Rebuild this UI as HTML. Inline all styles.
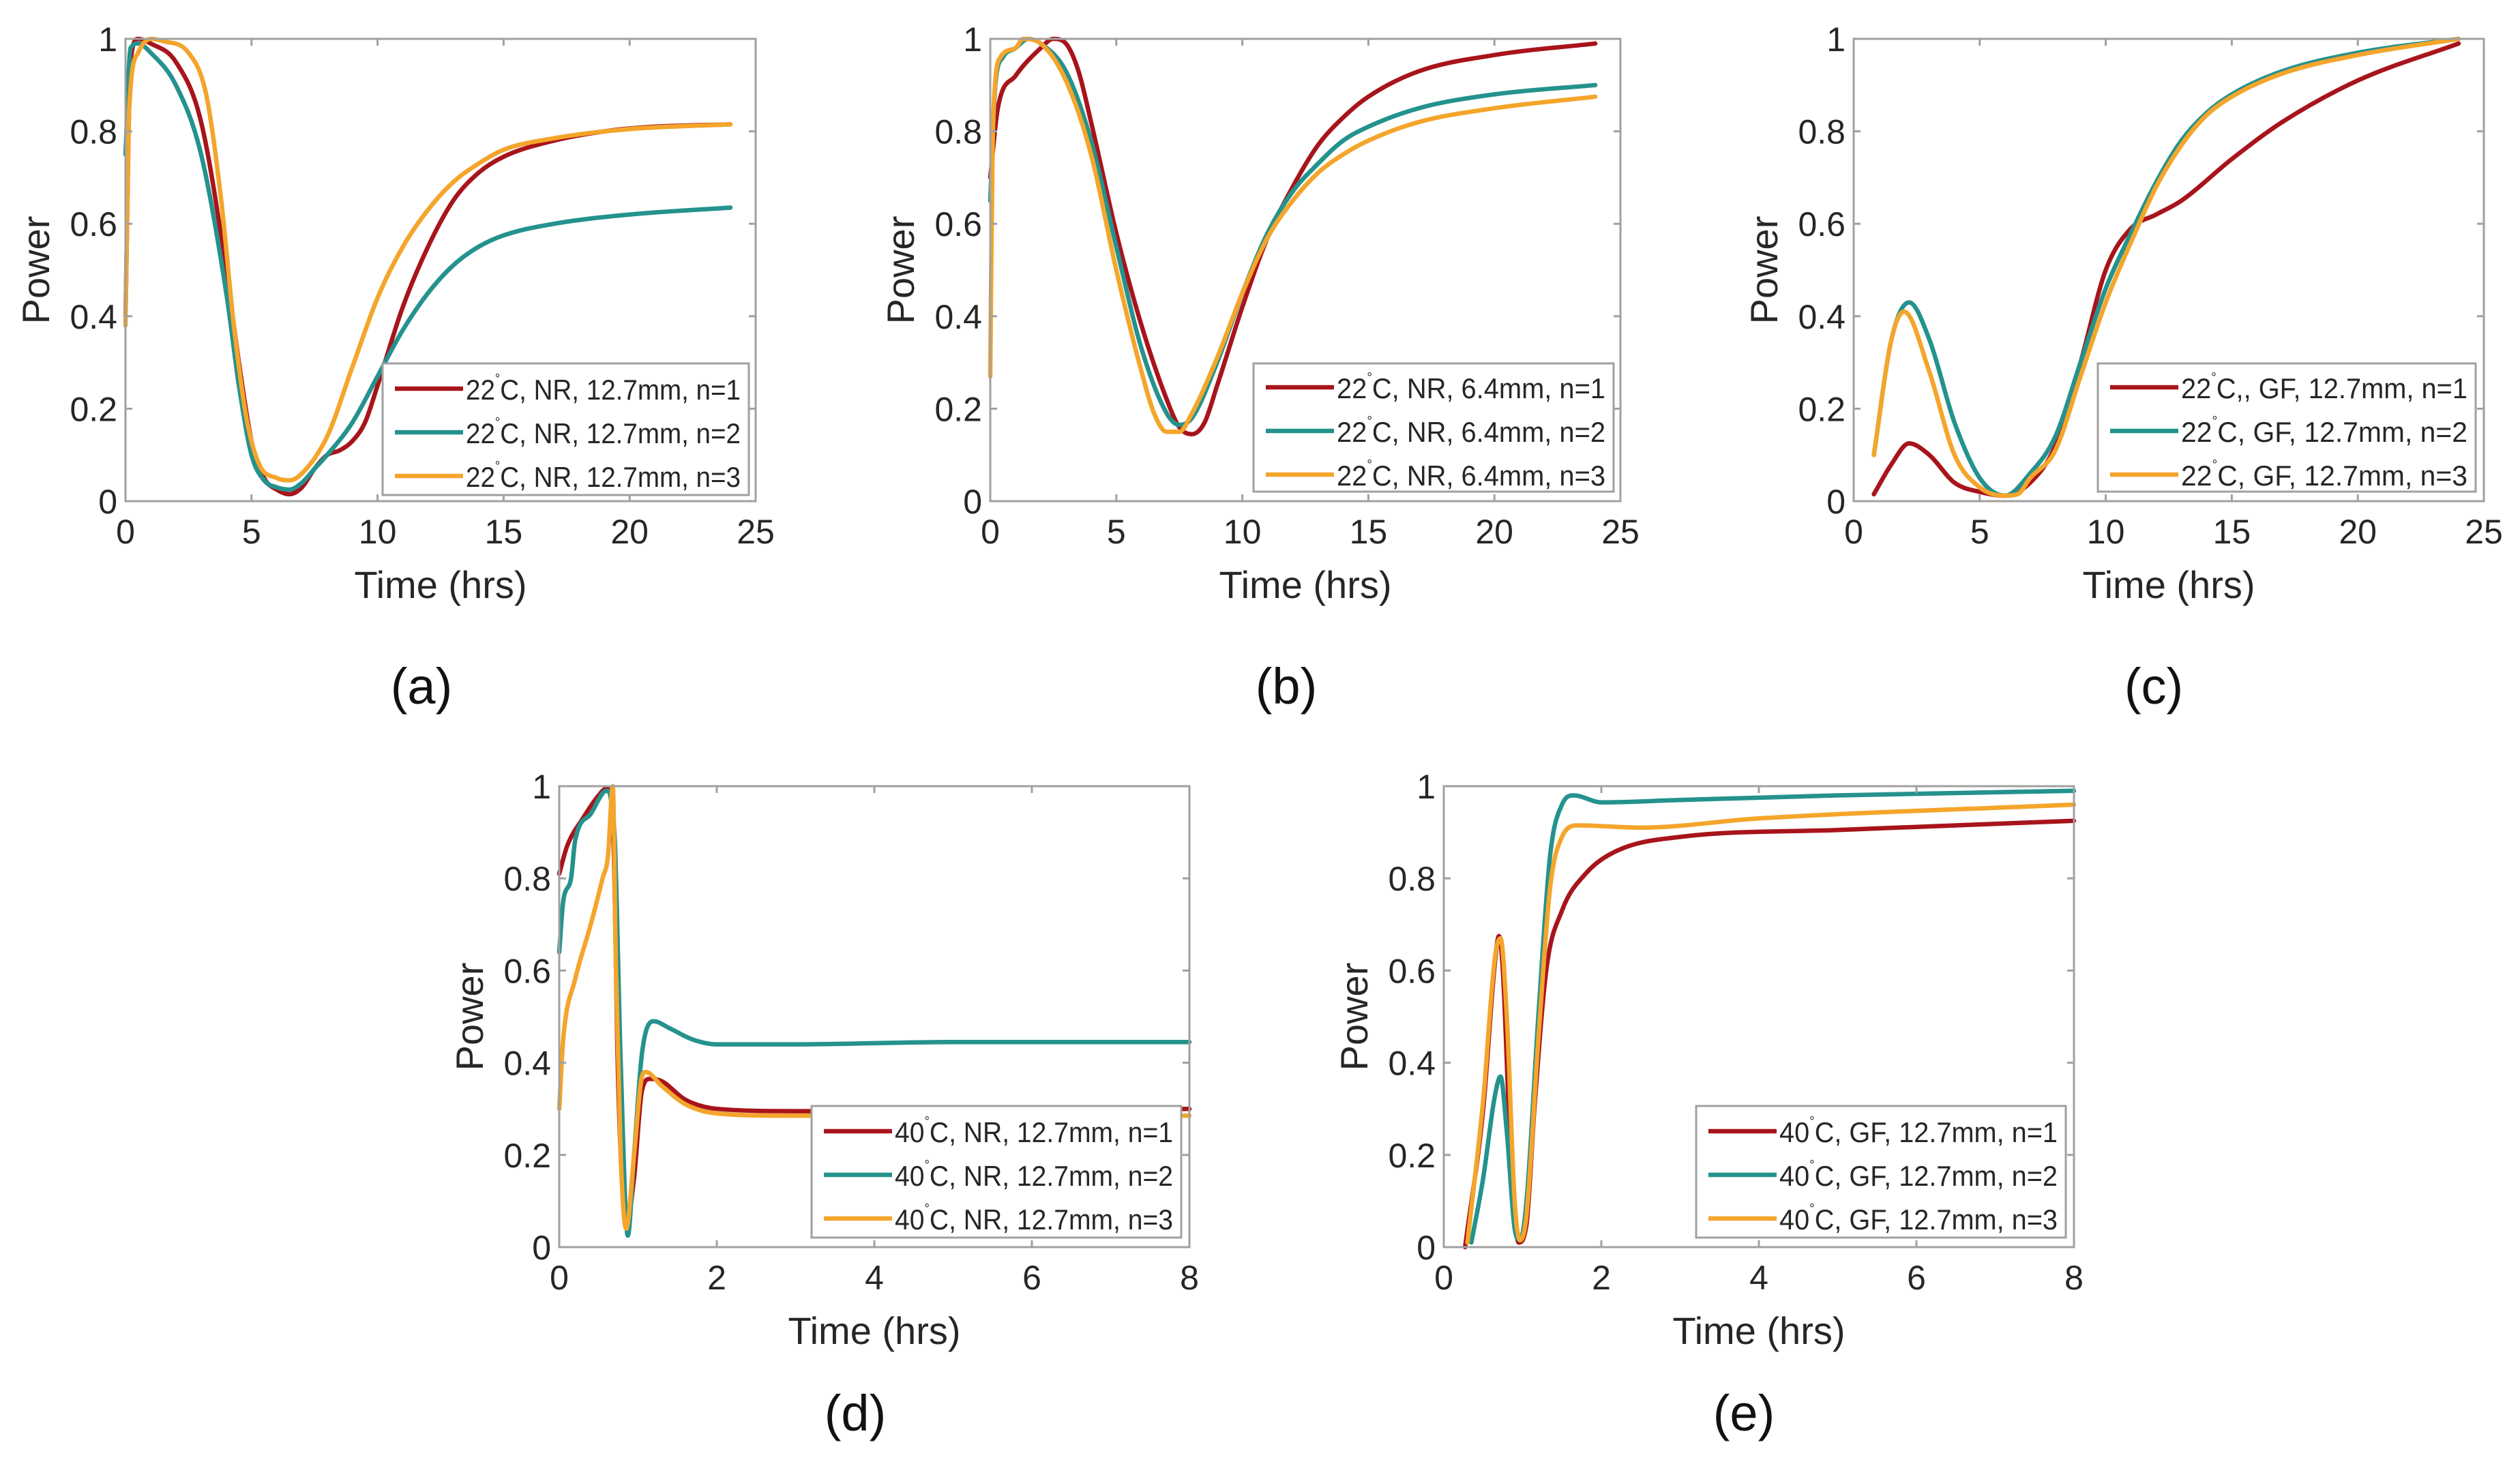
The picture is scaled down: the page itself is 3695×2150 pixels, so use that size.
<!DOCTYPE html>
<html><head><meta charset="utf-8"><style>
html,body{margin:0;padding:0;background:#fff;}
svg{display:block;font-family:"Liberation Sans",Arial,sans-serif;}
</style></head><body>
<svg id="fig" width="3695" height="2150" viewBox="0 0 3695 2150"></svg>
<script>
// ---- data (x in hrs, y = normalized power) ----
const aRedX=[0,0.2,0.5,1,2,3,4,4.5,5,5.5,6,6.5,7,7.5,8,8.5,9,9.5,10,11,12,13,14,15,17,19,21,24];
const aRedY=[0.4,0.95,1.0,0.99,0.95,0.82,0.5,0.3,0.13,0.05,0.025,0.015,0.03,0.07,0.1,0.11,0.13,0.17,0.25,0.42,0.55,0.65,0.71,0.745,0.78,0.8,0.81,0.815];
const aTealX=[0,0.2,0.5,1,2,3,4,4.5,5,5.5,6,6.5,7,7.5,8,9,10,11,12,13,14,15,17,20,24];
const aTealY=[0.75,0.98,0.99,0.97,0.9,0.75,0.45,0.25,0.1,0.045,0.03,0.025,0.04,0.07,0.1,0.17,0.27,0.37,0.45,0.51,0.55,0.575,0.6,0.62,0.635];
const aOrgX=[0,0.15,0.5,1,1.5,2.5,3.2,3.8,4.3,4.8,5.3,6,6.5,7,8,9,10,11,12,13,14,15,17,20,24];
const aOrgY=[0.38,0.85,0.97,1.0,0.995,0.97,0.88,0.65,0.38,0.18,0.08,0.05,0.045,0.06,0.14,0.29,0.44,0.55,0.63,0.69,0.73,0.76,0.785,0.805,0.815];

const bRedX=[0,0.3,1,2,2.5,3,3.5,4,5,6,7,7.5,8,8.5,9,10,11,12,13,14,15,17,20,24];
const bRedY=[0.7,0.85,0.92,0.98,1.0,0.99,0.93,0.82,0.58,0.38,0.22,0.16,0.145,0.17,0.25,0.42,0.57,0.68,0.77,0.83,0.875,0.93,0.965,0.99];
const bTealX=[0,0.2,0.5,1,1.5,2,3,4,5,6,7,7.5,8,9,10,11,12,13,14,15,17,20,24];
const bTealY=[0.65,0.9,0.96,0.98,1.0,0.99,0.93,0.78,0.55,0.33,0.19,0.165,0.18,0.3,0.45,0.58,0.67,0.73,0.78,0.81,0.85,0.88,0.9];
const bOrgX=[0,0.1,0.4,1,1.3,2,3,4,5,6,6.5,7,7.5,8,9,10,11,12,13,14,15,17,20,24];
const bOrgY=[0.27,0.8,0.96,0.98,1.0,0.99,0.91,0.75,0.5,0.28,0.19,0.15,0.15,0.19,0.31,0.45,0.57,0.65,0.71,0.75,0.78,0.82,0.85,0.875];

const cRedX=[0.8,1.5,2.2,3,4,5,6,7,8,9,10,11,12,13,15,17,20,24];
const cRedY=[0.015,0.08,0.125,0.1,0.04,0.02,0.012,0.04,0.12,0.3,0.5,0.59,0.62,0.65,0.74,0.82,0.91,0.99];
const cTealX=[0.8,1.5,2.2,3,4,5,6,7,8,9,10,11,12,13,14,15,17,20,24];
const cTealY=[0.1,0.35,0.43,0.35,0.17,0.05,0.012,0.06,0.14,0.3,0.46,0.58,0.69,0.78,0.84,0.88,0.93,0.97,1.0];
const cOrgX=[0.8,1.5,2,3,4,5,6,6.5,7,8,9,10,11,12,13,14,15,17,20,24];
const cOrgY=[0.1,0.35,0.41,0.28,0.1,0.03,0.012,0.015,0.05,0.11,0.27,0.43,0.56,0.68,0.77,0.835,0.875,0.925,0.965,1.0];

const dRedX=[0,0.1,0.3,0.5,0.6,0.68,0.75,0.85,0.95,1.05,1.15,1.3,1.6,2,3,5,8];
const dRedY=[0.81,0.87,0.93,0.98,0.995,0.93,0.35,0.05,0.15,0.34,0.365,0.36,0.32,0.3,0.295,0.295,0.3];
const dTealX=[0,0.05,0.15,0.2,0.4,0.6,0.7,0.78,0.87,0.95,1.05,1.2,1.4,1.7,2,3,5,8];
const dTealY=[0.64,0.75,0.8,0.88,0.94,0.99,0.9,0.4,0.025,0.2,0.42,0.49,0.475,0.45,0.44,0.44,0.445,0.445];
const dOrgX=[0,0.05,0.2,0.4,0.55,0.62,0.68,0.72,0.78,0.85,0.95,1.05,1.1,1.3,1.6,2,3,8];
const dOrgY=[0.3,0.45,0.58,0.7,0.8,0.85,1.0,0.6,0.2,0.04,0.2,0.37,0.38,0.35,0.31,0.29,0.285,0.285];

const eRedX=[0.27,0.5,0.65,0.7,0.75,0.85,0.95,1.05,1.15,1.3,1.5,1.8,2.2,3,5,8];
const eRedY=[0,0.3,0.62,0.675,0.6,0.2,0.01,0.05,0.3,0.6,0.73,0.81,0.86,0.89,0.905,0.925];
const eTealX=[0.35,0.5,0.65,0.72,0.8,0.9,0.97,1.05,1.2,1.35,1.5,1.65,2,3,5,8];
const eTealY=[0.01,0.15,0.33,0.37,0.25,0.04,0.015,0.1,0.5,0.85,0.96,0.98,0.965,0.97,0.98,0.99];
const eOrgX=[0.3,0.5,0.65,0.72,0.8,0.9,0.97,1.05,1.2,1.35,1.5,1.7,2.5,4,8];
const eOrgY=[0.01,0.32,0.63,0.67,0.5,0.1,0.015,0.07,0.45,0.78,0.89,0.915,0.91,0.93,0.96];

const yTicks=[0,0.2,0.4,0.6,0.8,1];
const yTickLabels=["0","0.2","0.4","0.6","0.8","1"];
const xTicksLong=[0,5,10,15,20,25];
const xTicksShort=[0,2,4,6,8];

const COLORS=["#a8141b","#24928e","#f4a52b"];
const NS="http://www.w3.org/2000/svg";
const svg=document.getElementById('fig');
function mk(tag,attrs,parent){const e=document.createElementNS(NS,tag);for(const k in attrs)e.setAttribute(k,attrs[k]);(parent||svg).appendChild(e);return e;}

// monotone cubic (Fritsch-Carlson) path through pixel points
function monoPath(px,py){
  const n=px.length;if(n<2)return '';
  const d=[],m=[];
  for(let i=0;i<n-1;i++){const h=px[i+1]-px[i];d.push(h===0?0:(py[i+1]-py[i])/h);}
  m[0]=d[0];m[n-1]=d[n-2];
  for(let i=1;i<n-1;i++){m[i]=(d[i-1]*d[i]<=0)?0:(d[i-1]+d[i])/2;}
  for(let i=0;i<n-1;i++){
    if(d[i]===0){m[i]=0;m[i+1]=0;continue;}
    const a=m[i]/d[i],b=m[i+1]/d[i],s=a*a+b*b;
    if(s>9){const t=3/Math.sqrt(s);m[i]=t*a*d[i];m[i+1]=t*b*d[i];}
  }
  let s='M'+px[0].toFixed(1)+','+py[0].toFixed(1);
  for(let i=0;i<n-1;i++){
    const h=(px[i+1]-px[i])/3;
    s+='C'+(px[i]+h).toFixed(1)+','+(py[i]+m[i]*h).toFixed(1)+' '+(px[i+1]-h).toFixed(1)+','+(py[i+1]-m[i+1]*h).toFixed(1)+' '+px[i+1].toFixed(1)+','+py[i+1].toFixed(1);
  }
  return s;
}

const panels=[
 {id:"a",x0:184,x1:1108,y0:57,y1:735,xmax:25,xt:xTicksLong,label:"(a)",lx:618,ly:1032,
  series:[[aRedX,aRedY],[aTealX,aTealY],[aOrgX,aOrgY]],
  leg:[561,533,537,193],names:["22","22","22"],suf:["C, NR, 12.7mm, n=1","C, NR, 12.7mm, n=2","C, NR, 12.7mm, n=3"]},
 {id:"b",x0:1452,x1:2376,y0:57,y1:735,xmax:25,xt:xTicksLong,label:"(b)",lx:1886,ly:1032,
  series:[[bRedX,bRedY],[bTealX,bTealY],[bOrgX,bOrgY]],
  leg:[1838,533,528,188],names:["22","22","22"],suf:["C, NR, 6.4mm, n=1","C, NR, 6.4mm, n=2","C, NR, 6.4mm, n=3"]},
 {id:"c",x0:2718,x1:3642,y0:57,y1:735,xmax:25,xt:xTicksLong,label:"(c)",lx:3158,ly:1032,
  series:[[cRedX,cRedY],[cTealX,cTealY],[cOrgX,cOrgY]],
  leg:[3076,533,554,188],names:["22","22","22"],suf:["C,, GF, 12.7mm, n=1","C, GF, 12.7mm, n=2","C, GF, 12.7mm, n=3"]},
 {id:"d",x0:820,x1:1744,y0:1153,y1:1829,xmax:8,xt:xTicksShort,label:"(d)",lx:1254,ly:2098,
  series:[[dRedX,dRedY],[dTealX,dTealY],[dOrgX,dOrgY]],
  leg:[1190,1622,542,193],names:["40","40","40"],suf:["C, NR, 12.7mm, n=1","C, NR, 12.7mm, n=2","C, NR, 12.7mm, n=3"]},
 {id:"e",x0:2117,x1:3041,y0:1153,y1:1829,xmax:8,xt:xTicksShort,label:"(e)",lx:2557,ly:2098,
  series:[[eRedX,eRedY],[eTealX,eTealY],[eOrgX,eOrgY]],
  leg:[2487,1622,542,193],names:["40","40","40"],suf:["C, GF, 12.7mm, n=1","C, GF, 12.7mm, n=2","C, GF, 12.7mm, n=3"]}
];

panels.forEach(p=>{
  const g=mk('g',{});
  
  
  const sx=v=>p.x0+(v/p.xmax)*(p.x1-p.x0);
  const sy=v=>p.y1-v*(p.y1-p.y0);
  const clipId='clip'+p.id;
  const cp=mk('clipPath',{id:clipId},g);
  mk('rect',{x:p.x0-4,y:p.y0-6,width:p.x1-p.x0+8,height:p.y1-p.y0+12},cp);
  const sg=mk('g',{'clip-path':'url(#'+clipId+')'},g);
  p.series.forEach((s,i)=>{
    const d=monoPath(s[0].map(sx),s[1].map(sy));
    const path=mk('path',{d:d,fill:'none',stroke:COLORS[i],'stroke-width':6.5,'stroke-linejoin':'round','stroke-linecap':'round'},sg);
    
    
  });
  const fr=mk('rect',{x:p.x0,y:p.y0,width:p.x1-p.x0,height:p.y1-p.y0,fill:'none',stroke:'#a0a0a0','stroke-width':3},g);
  
  
  yTicks.forEach((t,i)=>{
    const y=sy(t);
    mk('line',{x1:p.x0,x2:p.x0+10,y1:y,y2:y,stroke:'#a0a0a0','stroke-width':3},g);
    mk('line',{x1:p.x1,x2:p.x1-10,y1:y,y2:y,stroke:'#a0a0a0','stroke-width':3},g);
    const tx=mk('text',{x:p.x0-12,y:y+18,'text-anchor':'end','font-size':50,fill:'#262626'},g);
    tx.textContent=yTickLabels[i];
    
    
  });
  p.xt.forEach(t=>{
    const x=sx(t);
    mk('line',{x1:x,x2:x,y1:p.y1,y2:p.y1-10,stroke:'#a0a0a0','stroke-width':3},g);
    mk('line',{x1:x,x2:x,y1:p.y0,y2:p.y0+10,stroke:'#a0a0a0','stroke-width':3},g);
    const tx=mk('text',{x:x,y:p.y1+62,'text-anchor':'middle','font-size':50,fill:'#262626'},g);
    tx.textContent=String(t);
    
    
  });
  const xl=mk('text',{x:(p.x0+p.x1)/2,y:p.y1+142,'text-anchor':'middle','font-size':56,fill:'#262626'},g);
  xl.textContent='Time (hrs)';
  
  
  const yx=p.x0-112, yy=(p.y0+p.y1)/2;
  const yl=mk('text',{x:yx,y:yy,'text-anchor':'middle','font-size':56,fill:'#262626',transform:'rotate(-90 '+yx+' '+yy+')'},g);
  yl.textContent='Power';
  
  
  const pl=mk('text',{x:p.lx,y:p.ly,'text-anchor':'middle','font-size':74,fill:'#111'},g);
  pl.textContent=p.label;
  
  
  const [lx,ly,lw,lh]=p.leg;
  const lg=mk('g',{},g);
  
  
  mk('rect',{x:lx,y:ly,width:lw,height:lh,fill:'#fff',stroke:'#a0a0a0','stroke-width':3},lg);
  [35,99,163].forEach((off,i)=>{
    const yc=ly+off+(lh>190?2:0);
    mk('line',{x1:lx+18,x2:lx+118,y1:yc,y2:yc,stroke:COLORS[i],'stroke-width':6.5},lg);
    const t=mk('text',{x:lx+122,y:yc+16,'font-size':42,fill:'#262626',textLength:lw-134,lengthAdjust:'spacingAndGlyphs'},lg);
    
    
    const a=document.createElementNS(NS,'tspan');a.textContent=p.names[i];t.appendChild(a);
    const b=document.createElementNS(NS,'tspan');b.setAttribute('dy','-24');b.setAttribute('font-size','20');b.textContent='°';t.appendChild(b);
    const c=document.createElementNS(NS,'tspan');c.setAttribute('dy','24');c.textContent=p.suf[i];t.appendChild(c);
  });
});
</script>
</body></html>
